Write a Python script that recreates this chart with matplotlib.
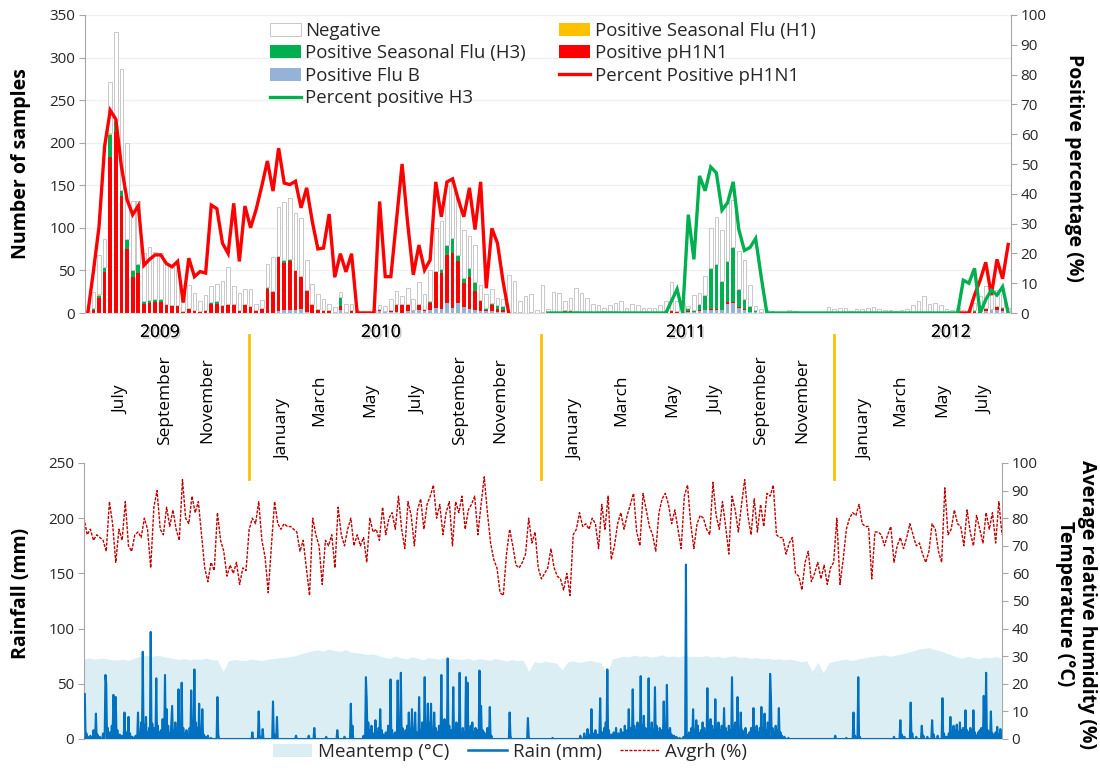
import numpy as np
import matplotlib
matplotlib.use("Agg")
import matplotlib.pyplot as plt
from matplotlib.lines import Line2D
from matplotlib.patches import Patch
import matplotlib.transforms as mtransforms
from matplotlib import patheffects
import datetime as dt

plt.rcParams['font.family'] = ['Open Sans', 'DejaVu Sans']

NaN = float('nan')

# ---------------- weekly surveillance data (week 0 starts 2009-06-11) ----------------
total_samples = [
    2, 25, 68, 87, 271, 330, 287, 200, 131, 131,
    70, 77, 72, 71, 57, 55, 50, 33, 33, 24,
    14, 21, 32, 34, 37, 54, 32, 23, 28, 28,
    11, 15, 57, 66, 124, 130, 135, 117, 111, 62,
    34, 22, 16, 11, 7, 25, 10, 10, 3, 2,
    2, 3, 9, 8, 16, 26, 20, 29, 16, 36,
    22, 50, 100, 108, 150, 155, 135, 97, 90, 80,
    33, 22, 28, 18, 16, 45, 37, 14, 20, 22,
    3, 33, 5, 25, 23, 14, 18, 29, 23, 18,
    10, 9, 6, 9, 12, 14, 6, 10, 9, 6,
    6, 6, 9, 14, 36, 14, 12, 8, 21, 23,
    44, 100, 113, 98, 130, 133, 73, 62, 33, 8,
    5, 3, 2, 0, 0, 4, 2, 0, 0, 0,
    0, 0, 7, 5, 6, 6, 2, 5, 5, 6,
    7, 5, 3, 4, 2, 3, 5, 9, 14, 20,
    10, 12, 9, 5, 3, 6, 4, 4, 12, 20,
    32, 22, 27, 22, 6]

flu_b = [
    0, 0, 0, 0, 0, 0, 0, 0, 0, 0,
    0, 0, 0, 0, 0, 0, 0, 0, 0, 0,
    0, 0, 0, 0, 0, 0, 0, 0, 0, 0,
    0, 0, 0, 0, 2, 3, 4, 3, 5, 1,
    0, 0, 0, 0, 0, 3, 0, 0, 0, 0,
    0, 0, 2, 1, 1, 1, 0, 2, 2, 3,
    2, 3, 6, 5, 12, 6, 12, 7, 5, 4,
    2, 2, 2, 1, 1, 0, 0, 0, 0, 0,
    0, 0, 0, 0, 0, 0, 1, 0, 0, 0,
    0, 0, 0, 0, 0, 0, 1, 0, 0, 0,
    0, 0, 0, 0, 0, 0, 0, 1, 1, 2,
    3, 4, 4, 3, 11, 12, 6, 4, 1, 1,
    0, 0, 0, 0, 0, 0, 0, 0, 0, 0,
    0, 0, 0, 0, 0, 0, 0, 0, 0, 0,
    0, 0, 0, 2, 0, 0, 0, 0, 0, 0,
    0, 0, 0, 0, 0, 0, 0, 0, 0, 0,
    2, 3, 3, 2, 0]

pos_ph1n1 = [
    0, 3, 18, 48, 183, 212, 138, 75, 42, 47,
    11, 12, 13, 13, 9, 8, 8, 1, 6, 3,
    2, 3, 11, 11, 9, 10, 10, 4, 10, 8,
    4, 6, 28, 26, 65, 56, 57, 47, 39, 26,
    10, 5, 4, 4, 1, 5, 1, 2, 0, 0,
    0, 0, 3, 1, 2, 8, 10, 9, 2, 8,
    3, 9, 43, 42, 56, 65, 49, 28, 37, 22,
    13, 2, 7, 4, 2, 0, 0, 1, 0, 1,
    0, 1, 1, 1, 1, 3, 2, 2, 1, 0,
    0, 0, 2, 2, 2, 1, 0, 1, 0, 0,
    1, 1, 1, 2, 2, 1, 1, 1, 0, 1,
    1, 1, 1, 1, 2, 1, 1, 1, 0, 0,
    0, 0, 0, 0, 0, 0, 0, 0, 0, 0,
    0, 0, 0, 0, 0, 0, 0, 0, 0, 0,
    0, 0, 0, 0, 0, 0, 0, 0, 0, 0,
    0, 0, 0, 0, 0, 0, 0, 0, 1, 2,
    3, 1, 4, 3, 1]

pos_h3 = [
    0, 3, 2, 5, 26, 13, 7, 12, 8, 10,
    3, 3, 3, 4, 2, 1, 1, 1, 0, 0,
    0, 1, 2, 3, 0, 0, 0, 0, 0, 0,
    0, 0, 2, 0, 0, 3, 3, 0, 0, 0,
    0, 0, 0, 0, 0, 11, 0, 2, 0, 0,
    0, 0, 0, 0, 0, 2, 1, 0, 0, 0,
    0, 2, 0, 5, 12, 17, 7, 6, 11, 10,
    0, 2, 3, 4, 5, 1, 1, 0, 0, 0,
    0, 0, 0, 0, 0, 0, 0, 0, 0, 0,
    0, 0, 0, 0, 0, 0, 0, 0, 0, 0,
    0, 0, 0, 0, 2, 1, 0, 4, 3, 8,
    17, 48, 53, 34, 48, 64, 21, 12, 7, 2,
    1, 0, 0, 0, 0, 0, 0, 0, 0, 0,
    0, 0, 0, 0, 0, 0, 0, 0, 0, 0,
    0, 0, 0, 0, 0, 0, 0, 0, 0, 0,
    0, 0, 0, 0, 0, 0, 1, 0, 2, 0,
    1, 1, 1, 2, 0]

pos_h1 = [0, 0, 2, 1, 2] + [0] * 160

pct_ph1n1 = [
    0, 14, 29, 56, 68, 65, 49, 38, 33, 36,
    16, 18, 19.5, 19.5, 16.6, 15.5, 17.3, 3.5, 18.4, 12.2,
    13.9, 13.4, 36.2, 35, 23.4, 20, 36.8, 17.3, 35.9, 28.6,
    34.8, 42.6, 51, 40.9, 55.3, 43.6, 43.1, 44.2, 35.3, 42,
    30.7, 21.5, 21.8, 33.2, 12, 19.9, 13.8, 19.9, 0, 0,
    0, 0, 37.4, 12.2, 12.2, 31.2, 50, 30, 12.8, 22.8,
    14.4, 17.8, 44, 32.3, 44, 45, 38.1, 32.3, 42, 28,
    44, 8.3, 28.4, 23.4, 10.5, 0] + [NaN] * 79 + [
    0, 0, 0, 6, 11, 17, 6, 18, 11.5, 23]

pct_h3 = [NaN] * 82 + [0] * 21 + [
    0, 4, 8, 0, 33, 18, 46, 41, 49, 47,
    34.5, 37, 44, 28, 21, 22, 25, 12, 0] + [0] * 34 + [
    11, 10, 15, 0, 4.5, 7.7, 6, 8.8, 0]

# ---------------- climate data ----------------
# average relative humidity (%), one value every 4 days from 2009-06-11
avg_rh = [
    80, 74, 76, 72, 74, 73, 72, 68, 86, 78,
    64, 76, 72, 86, 70, 68, 74, 75, 73, 80,
    76, 62, 84, 90, 76, 74, 84, 77, 83, 76,
    72, 94, 80, 78, 88, 82, 86, 74, 62, 57,
    64, 61, 82, 72, 68, 59, 63, 60, 64, 56,
    62, 61, 76, 80, 78, 86, 72, 66, 53, 70,
    86, 78, 76, 78, 77, 77, 76, 75, 68, 72,
    62, 52, 80, 74, 70, 56, 72, 70, 74, 62,
    84, 74, 70, 76, 80, 70, 74, 70, 73, 64,
    80, 75, 76, 72, 84, 74, 80,
    82, 76, 88, 76, 69, 86, 81, 70, 83, 87,
    76, 85, 88, 92, 80, 85, 74, 82, 86, 70,
    86, 82, 88, 76, 83, 85, 88, 74, 85, 95,
    82, 71, 65, 62, 53, 52, 67, 76, 70, 63,
    62, 64, 67, 80, 71, 75, 62, 58, 60, 62,
    69, 62, 59, 58, 54, 60, 52, 74, 76, 82,
    77, 78, 76, 80, 78, 69, 85, 76, 88, 65,
    70, 78, 82, 76, 81, 85, 89, 75, 70, 89,
    83, 77, 74, 68, 82, 87, 89, 85, 78, 83,
    76, 69, 88, 92, 78, 69, 78,
    81, 80, 76, 74, 93, 81, 76, 86, 77, 67,
    88, 83, 75, 85, 94, 81, 74, 87, 75, 85,
    77, 89, 88, 92, 74, 73, 73, 67, 71, 73,
    60, 59, 54, 64, 68, 57, 60, 64, 58, 63,
    56, 62, 64, 80, 56, 65, 76, 80, 82, 81,
    85, 78, 77, 77, 58, 75, 75, 74, 70, 74,
    77, 64, 70, 73, 69, 73, 78, 74, 70, 71,
    67, 64, 68, 78, 76, 68, 64, 91, 74, 76,
    83, 78, 77, 70, 83, 75, 70, 81, 76, 71,
    82, 76, 82, 71, 86, 74]

# mean temperature (deg C), one value per week
mean_temp = [
    29.0, 29.4, 28.9, 29.3, 29.1, 28.7, 28.6, 28.9, 28.5, 29.2,
    30.0, 30.4, 29.8, 30.3, 30.1, 29.5, 29.2, 28.8, 29.1, 28.7,
    29.0, 28.9, 29.3, 28.8, 28.6, 24.5, 28.3, 28.8,
    28.6, 28.4, 29.0, 28.7, 28.5, 28.9, 29.1, 29.4, 29.6, 29.8,
    30.2, 30.8, 31.4, 31.9, 32.3, 31.8, 32.6, 32.1, 31.7, 32.4,
    31.5, 31.2, 31.0, 30.6, 30.9, 30.2,
    29.6, 29.2, 30.1, 29.4, 29.0, 29.8, 29.3, 28.7, 29.5, 29.1, 28.9, 29.6, 29.2,
    29.0, 28.8, 29.3, 28.6, 29.1, 28.9, 28.5, 29.2, 28.7, 28.3, 28.8, 28.4, 28.6, 24.5,
    28.0, 27.6, 28.2, 27.8, 27.5, 25.0, 27.9, 28.3, 27.7, 28.1, 28.5, 28.0, 27.6,
    23.0,
    28.8, 29.5, 30.0, 29.7, 30.4, 29.9, 30.2, 29.6, 30.0, 30.5, 29.8, 30.1, 29.7, 30.3, 29.9, 30.0,
    29.8, 30.2, 29.6, 30.0, 29.4, 29.9, 30.1, 29.5, 29.7, 29.2, 29.5, 29.0, 29.3, 28.8, 29.1, 28.7, 29.0,
    28.5, 28.0, 28.3, 24.5, 27.8, 24.0, 27.6,
    28.2, 28.6, 29.0, 28.4, 28.9, 29.3, 29.6, 30.0,
    30.2, 30.5, 29.9, 30.4, 30.8, 31.3, 31.8, 32.5,
    32.8, 33.1, 32.4, 32.0, 31.2, 30.5,
    29.8, 29.3, 30.0, 29.5, 29.1, 29.7, 29.4, 29.9, 29.2]

# daily rainfall: days with rain (days since 2009-06-11) and amount (mm)
rain_days = [
    0, 1, 3, 5, 8, 12, 15, 17, 20, 24,
    27, 28, 30, 33, 35, 37, 38, 40, 42, 45,
    48, 51, 53, 56, 58, 61, 65, 68, 70, 72,
    74, 76, 78, 80, 82, 84, 86, 88, 91, 93,
    95, 97, 99, 102, 104, 106, 108, 110, 111, 113,
    115, 117, 119, 121, 123, 125, 127, 129, 131, 133,
    135, 137, 139, 141, 143, 145, 147, 149, 151, 153,
    156, 160, 168, 169,
    212, 220, 221, 225, 238, 240, 243, 267, 283, 290,
    305, 319, 328, 336, 338,
    352, 355, 356, 358, 360, 362, 364, 367, 369, 371,
    373, 375, 377, 380, 383, 386, 388, 390, 392, 395,
    397, 399, 401, 403, 405, 407, 409, 411, 413, 415,
    417, 419, 422, 424, 426, 429, 431, 433, 435, 437,
    439, 441, 443, 445, 447, 450, 452, 454, 456, 458,
    460, 462, 465, 467, 469, 471, 473, 475, 477, 479,
    481, 483, 485, 487, 489, 491, 493, 496, 498, 500,
    502, 504, 506, 508, 511, 513,
    536, 537, 559, 560, 590,
    625, 630, 634, 636, 639, 641, 644, 647, 650, 652,
    655, 657, 659, 661, 664, 667, 670, 673, 676, 678,
    681, 684, 686, 688, 691, 693, 695, 697, 699, 701,
    703, 705, 707, 709, 711, 713, 715, 717, 719, 721,
    723, 725, 727, 730, 732, 734, 736, 738, 740, 743,
    746, 750, 755, 758, 760, 762, 765, 767, 769, 771,
    773, 775, 777, 779, 781, 783, 785, 787, 789, 791,
    793, 795, 797, 799, 801, 803, 806, 808, 810, 812,
    814, 816, 818, 820, 823, 825, 827, 829, 831, 833,
    835, 838, 840, 843, 845, 847, 849, 851, 853, 855,
    857, 859, 861, 864, 865, 867, 869, 871, 873, 875,
    877, 879, 882, 887,
    946, 960, 969, 971, 975, 977,
    1020, 1028, 1030, 1033, 1041, 1043, 1048, 1055, 1057, 1062,
    1068, 1070, 1075, 1081, 1083, 1086, 1089, 1091, 1093, 1095,
    1097, 1099, 1101, 1103, 1105, 1107, 1110, 1112, 1114, 1116,
    1118, 1120, 1122, 1124, 1126, 1128, 1130, 1133, 1136, 1138,
    1140, 1142, 1144, 1146, 1148, 1150, 1152, 1154, 1156]
rain_mm = [
    40, 41, 5, 2, 3, 8, 23, 4, 2, 5,
    58, 50, 10, 6, 12, 40, 25, 38, 8, 4,
    3, 24, 6, 20, 5, 2, 3, 24, 5, 15,
    79, 12, 20, 6, 10, 97, 14, 10, 55, 12,
    6, 8, 18, 58, 27, 12, 5, 15, 30, 8,
    15, 10, 45, 12, 51, 10, 5, 8, 3, 10,
    44, 8, 63, 15, 10, 32, 6, 27, 4, 2,
    3, 1, 38, 5,
    6, 25, 4, 9, 34, 4, 20, 3, 3, 10,
    2, 8, 2, 32, 12,
    3, 56, 36, 15, 8, 12, 5, 17, 6, 10,
    27, 8, 4, 6, 12, 54, 8, 4, 6, 53,
    15, 60, 10, 5, 8, 12, 24, 8, 27, 10,
    24, 6, 38, 8, 15, 56, 10, 32, 14, 32,
    8, 24, 10, 6, 12, 58, 8, 18, 10, 73,
    12, 8, 47, 10, 15, 8, 60, 4, 10, 6,
    56, 51, 8, 12, 15, 6, 10, 8, 62, 30,
    8, 6, 4, 10, 29, 3,
    24, 3, 19, 2, 1,
    3, 5, 9, 4, 27, 5, 8, 4, 37, 6,
    10, 15, 63, 8, 4, 6, 10, 5, 9, 6,
    12, 8, 27, 10, 45, 12, 8, 15, 10, 57,
    12, 21, 10, 6, 55, 10, 15, 8, 47, 12,
    6, 10, 8, 34, 10, 49, 8, 10, 4, 3,
    2, 1, 2, 158, 3, 6, 10, 27, 8, 17,
    12, 5, 8, 15, 10, 6, 46, 10, 18, 12,
    8, 36, 10, 15, 8, 12, 28, 10, 6, 12,
    8, 56, 12, 15, 38, 10, 24, 8, 6, 10,
    4, 6, 10, 28, 8, 12, 6, 10, 29, 10,
    23, 8, 15, 59, 39, 10, 6, 12, 8, 28,
    6, 3, 2, 1,
    3, 1, 24, 3, 56, 2,
    2, 17, 4, 2, 33, 5, 2, 12, 3, 2,
    17, 4, 3, 37, 5, 2, 5, 20, 6, 12,
    8, 13, 6, 15, 8, 10, 26, 8, 6, 10,
    8, 26, 6, 3, 6, 8, 10, 39, 60, 8,
    6, 25, 5, 3, 6, 11, 4, 9, 3]

start_date = dt.date(2009, 6, 11)
year_labels = ['2009', '2010', '2011', '2012']
month_names = ['July', 'September', 'November',
               'January', 'March', 'May', 'July', 'September', 'November',
               'January', 'March', 'May', 'July', 'September', 'November',
               'January', 'March', 'May', 'July']

# ---------------- layout helpers ----------------
W, H = 1100, 769
fig = plt.figure(figsize=(11, 7.69), dpi=100)
def fx(px): return px / W
def fy(py): return 1 - py / H

GRAY = '#a6a6a6'
TXT = '#262626'
C_RED = '#ff0000'
C_GREEN = '#00b050'
C_YEL = '#ffc000'
C_BLUE = '#95b3d7'

# ---------------- top panel ----------------
ax1 = fig.add_axes([fx(85), fy(313), fx(1011) - fx(85), fy(15) - fy(313)])
ax1r = ax1.twinx()

tot = np.array(total_samples, float)
fb = np.array(flu_b, float)
ph = np.array(pos_ph1n1, float)
h3 = np.array(pos_h3, float)
h1 = np.array(pos_h1, float)
neg = tot - (fb + ph + h3 + h1)
n = len(tot)
x = np.arange(n)
bw = 0.65

b_fb = ax1.bar(x, fb, bw, color=C_BLUE, label='Positive Flu B', zorder=2)
base = fb.copy()
b_ph = ax1.bar(x, ph, bw, bottom=base, color=C_RED, label='Positive pH1N1', zorder=2)
base += ph
b_h3 = ax1.bar(x, h3, bw, bottom=base, color=C_GREEN, label='Positive Seasonal Flu (H3)', zorder=2)
base += h3
b_h1 = ax1.bar(x, h1, bw, bottom=base, color=C_YEL, label='Positive Seasonal Flu (H1)', zorder=2)
base += h1
b_neg = ax1.bar(x, neg, bw, bottom=base, facecolor='white', edgecolor='#c8c8c8',
                linewidth=0.7, label='Negative', zorder=2)

l_ph, = ax1r.plot(x, pct_ph1n1, color=C_RED, lw=2.4, label='Percent Positive pH1N1',
                  solid_joinstyle='miter')
l_h3, = ax1r.plot(x, pct_h3, color=C_GREEN, lw=2.4, label='Percent positive H3',
                  solid_joinstyle='miter')

ax1.set_xlim(-0.5, n - 0.5)
ax1.set_ylim(0, 350)
ax1.set_yticks(range(0, 351, 50))
ax1r.set_ylim(0, 100)
ax1r.set_yticks(range(0, 101, 10))
ax1.yaxis.grid(True, color='#efefef', lw=0.9)
ax1.set_axisbelow(True)

for a in (ax1, ax1r):
    a.spines['top'].set_visible(False)
    a.tick_params(axis='x', length=0, labelbottom=False)
ax1.spines['right'].set_visible(False)
ax1.spines['left'].set_color(GRAY)
ax1.spines['bottom'].set_color('#d9d9d9')
ax1r.spines['left'].set_visible(False)
ax1r.spines['bottom'].set_visible(False)
ax1r.spines['right'].set_color(GRAY)
ax1.tick_params(axis='y', direction='out', length=4, color=GRAY, labelsize=11,
                labelcolor=TXT, pad=3)
ax1r.tick_params(axis='y', direction='out', length=4, color=GRAY, labelsize=11,
                 labelcolor=TXT, pad=3)

leg = ax1r.legend(handles=[b_neg, b_h3, b_fb, l_h3, b_h1, b_ph, l_ph],
                  loc='upper left', bbox_to_anchor=(fx(270), fy(22)),
                  bbox_transform=fig.transFigure, ncol=2, frameon=False,
                  fontsize=13.4, handlelength=1.65, handletextpad=0.25,
                  columnspacing=1.8, labelspacing=0.24, borderpad=0, borderaxespad=0)
for t in leg.get_texts():
    t.set_color(TXT)

fig.text(fx(21), fy(164), 'Number of samples', rotation=90, ha='center', va='center',
         fontsize=14, fontweight='bold', color='black')
fig.text(fx(1074), fy(168), 'Positive percentage (%)', rotation=270, ha='center',
         va='center', fontsize=14, fontweight='bold', color='black')

# ---------------- middle: years, months, separators ----------------
shadow = [patheffects.withSimplePatchShadow(offset=(1.2, -1.2), shadow_rgbFace='#9a9a9a',
                                            alpha=0.6), patheffects.Normal()]
year_x_px = [160, 381, 686, 951]
for lab, px in zip(year_labels, year_x_px):
    fig.text(fx(px), fy(333), lab, ha='center', va='center', fontsize=12.5,
             color='black', path_effects=shadow)

month_x_px = [121, 165, 207, 283, 319, 370, 418, 460, 500,
              575, 621, 672, 716, 761, 802, 865, 900, 942, 985]
for name, px in zip(month_names, month_x_px):
    ypx = 429 if name == 'January' else 400
    fig.text(fx(px), fy(ypx), name, rotation=90, ha='center', va='center',
             fontsize=12.5, color='black')

blend = mtransforms.blended_transform_factory(ax1.transData, fig.transFigure)
for yr in (2010, 2011, 2012):
    d = (dt.date(yr, 1, 1) - start_date).days
    cat = (d - 3.5) / 7.0
    fig.add_artist(Line2D([cat, cat], [fy(335), fy(479)], transform=blend,
                          color=C_YEL, lw=2.0))

# ---------------- bottom panel ----------------
ax2 = fig.add_axes([fx(84), fy(739), fx(1002) - fx(84), fy(463) - fy(739)])
ax2r = ax2.twinx()
ax2r.set_zorder(ax2.get_zorder() - 1)
ax2.patch.set_visible(False)

ndays = 1157
rain = np.zeros(ndays)
rain[np.array(rain_days)] = np.array(rain_mm, float)
days = np.arange(ndays)

t_days = np.arange(len(mean_temp)) * 7
rh_days = np.arange(len(avg_rh)) * 4

ax2r.fill_between(t_days, 0, mean_temp, color='#daeef3', lw=0, zorder=1)
ax2r.plot(rh_days, avg_rh, color='#c00000', lw=1.0, ls=(0, (2.2, 1.0)), zorder=3)
ax2.plot(days, rain, color='#0070c0', lw=1.5, zorder=3)

ax2.set_xlim(0, ndays - 1)
ax2.set_ylim(0, 250)
ax2.set_yticks(range(0, 251, 50))
ax2r.set_ylim(0, 100)
ax2r.set_yticks(range(0, 101, 10))
ax2r.set_yticks(range(20, 101, 20), minor=True)
ax2r.grid(True, which='minor', axis='y', color='#efefef', lw=0.9, zorder=0)
ax2r.tick_params(axis='y', which='minor', length=0)

for a in (ax2, ax2r):
    a.spines['top'].set_visible(False)
    a.tick_params(axis='x', length=0, labelbottom=False)
ax2.spines['right'].set_visible(False)
ax2.spines['left'].set_color(GRAY)
ax2.spines['bottom'].set_visible(False)
ax2r.spines['left'].set_visible(False)
ax2r.spines['bottom'].set_color('#d9d9d9')
ax2r.spines['right'].set_color(GRAY)
ax2.tick_params(axis='y', direction='out', length=4, color=GRAY, labelsize=11,
                labelcolor=TXT, pad=3)
ax2r.tick_params(axis='y', which='major', direction='out', length=4, color=GRAY,
                 labelsize=11, labelcolor=TXT, pad=3)

fig.text(fx(21), fy(593), 'Rainfall (mm)', rotation=90, ha='center', va='center',
         fontsize=14, fontweight='bold', color='black')
fig.text(fx(1076), fy(604), 'Average relative humidity (%)\nTemperature (°C)',
         rotation=270, ha='center', va='center', multialignment='center',
         fontsize=14, fontweight='bold', color='black', linespacing=1.15)

h_t = Patch(facecolor='#daeef3', edgecolor='none', label='Meantemp (°C)')
h_r = Line2D([], [], color='#0070c0', lw=1.8, label='Rain (mm)')
h_h = Line2D([], [], color='#c00000', lw=1.0, ls=(0, (2.2, 1.0)), label='Avgrh (%)')
leg2 = fig.legend(handles=[h_t, h_r, h_h], loc='center',
                  bbox_to_anchor=(fx(510), fy(752)), ncol=3, frameon=False,
                  fontsize=13.5, handlelength=2.1, handletextpad=0.3,
                  columnspacing=1.0, borderpad=0)
for t in leg2.get_texts():
    t.set_color(TXT)

fig.savefig('out.png', dpi=100)
